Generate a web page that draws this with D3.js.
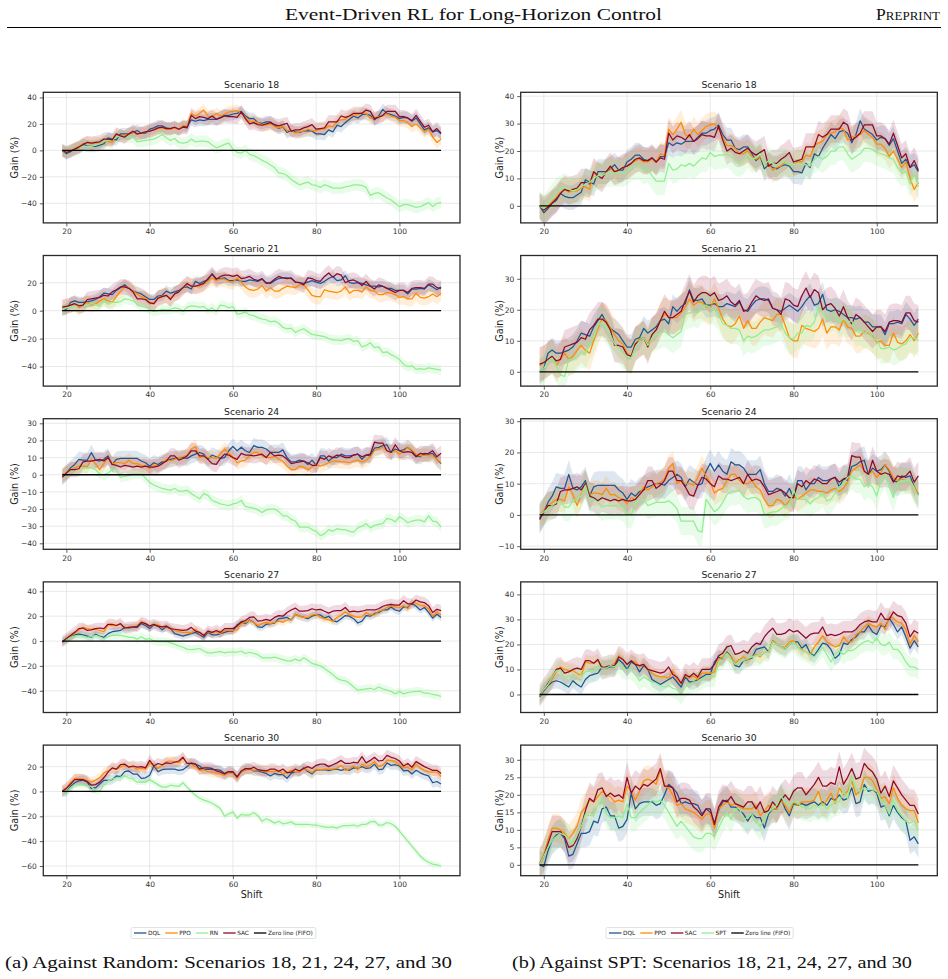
<!DOCTYPE html>
<html><head><meta charset="utf-8">
<script src="https://cdn.jsdelivr.net/npm/d3@7"></script>
<style>
html,body{margin:0;padding:0;background:#fff;}
svg{display:block;}
</style></head>
<body>
<svg id="fig" width="948" height="979"></svg>
<script>
// ---------------- DATA ----------------
const shifts = d3.range(19, 111);           // x categories 19..110
const scenarios = [18, 21, 24, 27, 30];
const xTicks = [20, 40, 60, 80, 100];

const dql18 = [0,-2.5,-1,1,2,4.5,3.5,3,3,4,
  5,9.5,8.5,8,12.5,12.5,12.5,13.5,15,13,
  13,16,17,18.5,18.5,17,16.5,17.5,16,18,
  18,23,22,23,22.5,23.5,23.5,23.5,25,26.5,
  26.5,27.5,28,29.5,26,24,24,21,20.5,21.5,
  21.5,19,16.5,18,13.5,15,14,13.5,14.5,15,
  14.5,12.5,12.5,12,15.5,14,19,18,21,23.5,
  26,24.5,27,27.5,26.5,23,26,31,28,27,
  26,24,25,24.5,22,24.5,20,15.5,17,14,
  15,12.5];
const ppo18 = [0,-1.5,0,1.5,3,5,6,5,5.5,5.5,
  6.5,7,6,12,11,11,12.5,14,12,13,
  14,14.5,15.5,16.5,17,16,16,17,16,19,
  18.5,28,26,28,30.5,26,25,28,26,27.5,
  29,29.5,30,28,25,22,22,21,19,19,
  20,18,17,18,15,15.5,13,14,14.5,16,
  15,15,16,16,18.5,18,22,23,23.5,26,
  26.5,27,28.5,28,24,25,25.5,26,27.5,26,
  25,22.5,22.5,21,18,20,17,14,16,10,
  6,8.5];
const sac18 = [0,-1.5,-0.5,1,2.5,4.5,6,5.5,6,6.5,
  8.5,8.5,8,12.5,11,10,12.5,14.5,12.5,13,
  14,14.5,15.5,17,17.5,16.5,16.5,17.5,16,17.5,
  17,26.5,24,25.5,25,24,26,23.5,24.5,26,
  25.5,25.5,25,29,24,20,21,19.5,19,20,
  21,19.5,18.5,19.5,20.5,14.5,15.5,15.5,17,18,
  19.5,16,16.5,17,21.5,21.5,21.5,26,25,26,
  28,28,28,30.5,29.5,24,25,26.5,29.5,29.5,
  29.5,25.5,25.5,24.5,22.5,26.5,22,17.5,19,14,
  16.5,13];
const spt18 = [0,-1,1,3,5,6,7,6,5.5,6,
  7,8,8.5,10,11,11,12,12,12,12,
  12,12.5,14,14.5,14.5,13,13.5,11,9,9,
  9,15.5,13,13.5,15,14.5,15.5,14.5,16,17.5,
  17,19.5,18,18.5,18.5,19,18,16,15.5,16.5,
  19,17,17.5,19,15,16.5,15.5,15,16,16,
  15,15,15.5,15,15,14.5,17,18,17,18,
  20,20,21.5,21.5,19,17,18,19,21,21,
  20.5,19.5,19,18.5,17.5,17,14,12,12.5,8,
  11.5,7];
const rn18 = [0,-1.5,0,1,2,3,3,3,4,5,
  7,7.5,8,10,11,10,10,10,6.5,7,
  7.5,8,8.5,10,12,9.5,7.5,9,6,5.5,
  6,8.5,6.5,7,7,6.5,4,2,3,4.5,
  5.5,1,-1.5,-2,0,-3,-4,-5.5,-7.5,-9,
  -11,-13,-17,-17.5,-19,-22,-24,-26,-25,-24,
  -26,-26.5,-28,-26,-27,-28.5,-28.5,-28.5,-27.5,-27,
  -26,-26,-26.5,-28,-34,-32.5,-32,-34,-36,-37.5,
  -40,-42.5,-41,-41,-42,-43,-42.5,-41,-39.5,-42.5,
  -40,-39.5];

const dql21 = [0,1,6,7,6,6,6.5,7,8,10,
  12.5,12,11.5,14.5,16.5,18.5,16,14,13,12,
  10,8,8,10.5,11,14,12.5,13.5,14.5,16.5,
  17,15.5,21,19.5,21,22,26.5,23,23,23.5,
  21.5,21.5,22,21,21,22,21.5,21,22.5,20,
  19.5,21.5,23,23.5,23.5,23,20.5,20,19.5,20.5,
  21.5,20.5,19.5,21,23,24.5,21.5,22,25,20,
  19.5,20,19.5,18.5,17.5,17.5,17,17.5,16,16,
  14.5,14.5,14.5,12,15.5,15.5,16,15.5,18.5,17,
  15,17];
const ppo21 = [2,3,4,5,2,4,6,4,5,7,
  8.5,7,6,10,14,17,16.5,14,12,10,
  9,6,5,9,10.5,11,9,12,13.5,16.5,
  18.5,18,17.5,17.5,19,21,23.5,21.5,22.5,22.5,
  21,20.5,23.5,20.5,17,15,14.5,15.5,18,14,
  16.5,14,14,16,17.5,17,16.5,18.5,18.5,15,
  11,10,10,15,14,13.5,13,14,17,12.5,
  14.5,14.5,13.5,17,14.5,14,11.5,11.5,13,12.5,
  11.5,9.5,10,8.5,8.5,12.5,9.5,9,10,12,
  10,12.5];
const sac21 = [2.5,3,4,5,3.5,4,8,8.5,9,9.5,
  11,10.5,13.5,15,17,17,16,13.5,8.5,8.5,
  8,5.5,5,9,10,11,8,12,13.5,16.5,
  19.5,17.5,17.5,18.5,19.5,23,26,22.5,24.5,25.5,
  25.5,24.5,25.5,23,23.5,24.5,22.5,21.5,23,19.5,
  20,22.5,24.5,23.5,23,23.5,20.5,20,18.5,23.5,
  23,21.5,21,24.5,27,24,26.5,25.5,20,21.5,
  22,20.5,18,21,17.5,15.5,18.5,17.5,16,14.5,
  13,14.5,14.5,13,16,16.5,16.5,16,19,19,
  16.5,16];
const spt21 = [0,1,3.5,4.5,2,-1,-1.5,4,4,5,
  6.5,6,9,11,15,16,14,12,9,7.5,
  6,5,4.5,8,10,11,8.5,11,12,12.5,
  13,12,11,12,13,18.5,19,19.5,19,21,
  21.5,20.5,20,18.5,15.5,15,14,14,13.5,10,
  11.5,11,11.5,12.5,13.5,13.5,14,14.5,15.5,12.5,
  11,10.5,12.5,12.5,15,14.5,16,21,19,17,
  18,18.5,16,17,16,16.5,13,13.5,12.5,13,
  11,10,7.5,7.5,8,7,7.5,8.5,9,11,
  11,10];
const rn21 = [0.5,2,2.5,3,3.5,4,4,5,4.5,3,
  7.5,4.5,6,6,6.5,8.5,8,7,5,3,
  2.5,1,-0.5,0,1,0.5,1,2,1.5,-0.5,
  2.5,3.5,3,2.5,3,0.5,2,-0.5,4,3.5,
  2,3,-2.5,-2,-1,-3,-3.5,-5,-6,-6.5,
  -8,-7.5,-9,-12,-13,-12.5,-15.5,-14,-13,-15,
  -17,-17.5,-18,-18.5,-20,-21,-21,-21.5,-20.5,-20,
  -22,-21.5,-26,-25,-23,-26.5,-26,-30,-29.5,-31.5,
  -33,-35,-38.5,-40,-39.5,-42,-41.5,-42,-41,-41.5,
  -42,-42.5];

const dql24 = [-1,1,4,6,9,8.5,8.5,13,8.5,8,
  9,11,6,9,9.5,9.5,9.5,9.5,9.5,8,
  7,5,7,6,7.5,8,9,9.5,10,10,
  9.5,11,12,13,12,9,11.5,10.5,9.5,10,
  14,16.5,14,16,14,13,17,16,16,15,
  13,13,13,14.5,10,7.5,7.5,8.5,8,6,
  8.5,5.5,11,11,8,10,10,12,11,11,
  11.5,12,9,11.5,11,15.5,16,17,17.5,13,
  15,14,14.5,16,14,11,10.5,12.5,12,12.5,
  9,6.5];
const ppo24 = [0,1.5,3,4,5,5,4.5,9,6.5,3,
  6.5,10,6.5,7,7,6.5,8.5,6.5,6.5,5.5,
  5,3.5,5.5,5,6.5,9,8,9,10,10.5,
  11.5,15,16.5,10,11,10,10,9.5,12,15,
  12.5,10.5,7,8,8.5,11,13,13,11,10,
  10,11,9,8,5,3,3,5,4.5,3,
  4.5,6,5,6,7,8,8,7.5,7.5,7,
  8,8.5,7.5,8.5,10.5,14,15,16,14,13,
  14,12,13.5,16,14.5,12,11,11.5,11,11,
  9,7];
const sac24 = [-1.5,1,3,3,3.5,7.5,8,8,8.5,9,
  8,10,6,5.5,4.5,5.5,5,4.5,5,4.5,
  5,4.5,4.5,5,6.5,8,11,11,8.5,9.5,
  11,14,14,11,11,9,6.5,6,9.5,12,
  11.5,10,9,12.5,11.5,11.5,11,11.5,12,10,
  13,11,11.5,11,9,6.5,7,7.5,8,7,
  5.5,5.5,10,9,11,10,11.5,11,10,10,
  11.5,12,10.5,11.5,12,19,18.5,18.5,14,13,
  17.5,14,13,13.5,13,10.5,12.5,12,12.5,14,
  10.5,12.5];
const spt24 = [0,1,2,3,4,4.5,2.5,2.5,4.5,5,
  6,9.5,5,5,4,2.5,3,3,3,3,
  2.5,0.5,0,4,4.5,5,3,3.5,4,4,
  4,4.5,3.5,2,-2,-2,-2,-2,-5,-5.5,
  5,3,1,2,4,6.5,7.5,7.5,8,6,
  5,5.5,5.5,4.5,0,0.5,1,1,2,3,
  3,8,5,5,5,3.5,5,5.5,7,4.5,
  5,7,9,10,12,12.5,11.5,11.5,9,10,
  9,6,11,13,9,5.5,10.5,11,11,11,
  8.5,6];
const rn24 = [-1,1,2.5,3,3.5,4,4,4,3,0.5,
  0,1,3,3,-1.5,-1,-0.5,0.5,0.5,0.5,
  -2,-4.5,-6,-7,-8,-8.5,-9,-8,-9.5,-9.5,
  -9,-11,-12.5,-14,-11,-12,-15,-16,-17,-17.5,
  -18,-17,-16.5,-15,-18.5,-19,-19.5,-20.5,-22,-20.5,
  -20,-20,-21.5,-24,-24,-26,-27,-30.5,-30.5,-30.5,
  -32,-33,-35.5,-34.5,-32,-33,-31.5,-32,-32,-33,
  -33.5,-31,-30,-28.5,-31,-29.5,-29,-28.5,-25.5,-26,
  -27.5,-24.5,-26,-28,-27,-26.5,-26.5,-27.5,-24,-27,
  -27.5,-30.5];

const dql27 = [-1,1.5,3.5,5,5.5,5,4,3,5.5,4,
  3,6,7.5,8,8.5,11,10.5,11,11,14,
  12.5,10,13,12,9,11.5,10,6,5,4,
  5,6,7,5,3,7,5,5,6,7,
  8,8,13,15,14,17,15,11.5,11,13.5,
  14,14.5,18,18.5,19,17,21.5,20,19,18,
  20,21,21,18.5,20,16.5,15.5,18,20.5,20,
  18,14.5,16,20.5,20,22,23,25,25,27.5,
  25,24,27.5,27,30.5,28,25,27,23,18.5,
  21.5,19];
const ppo27 = [-0.5,2,4,6,9,11,10,9.5,9.5,8.5,
  7.5,13,12.5,12.5,13.5,10.5,11,11.5,12.5,15.5,
  14,12,13.5,13,11,12,10,8.5,7.5,7,
  7,6.5,9.5,6,4.5,7.5,6.5,7.5,6,8.5,
  8.5,8.5,9,14,15,16.5,15,12.5,14,15,
  14,15,16,15,17,17,21.5,20,19,19,
  21,21.5,19,18,17,16,19,21,23.5,21,
  20,19,19.5,23,21,21,24,25,27,28.5,
  27.5,27,28.5,26,31,30.5,29,28.5,26,20,
  23.5,21];
const sac27 = [-0.5,2,4.5,7,10,10.5,8.5,9,10,10.5,
  10,13.5,13.5,12.5,14,10.5,11,11.5,11.5,15,
  14,12,13.5,12,11.5,12,10,9.5,9,8.5,
  9,11,8,7,4.5,8,7,8.5,7,10,
  10,10,12,15.5,16.5,19,19.5,16,16.5,17.5,
  16.5,19,20.5,20,23,25,26.5,24,24,24.5,
  26,25,25.5,24,22.5,24,24.5,24.5,27,23.5,
  24,23.5,24,25,25,25,26,28,29,29.5,
  29,29,32.5,30,30,33,31.5,31,28.5,23,
  25.5,24.5];
const spt27 = [-0.5,2,4,7,9.5,9.5,6.5,7.5,6.5,7.5,
  7.5,9,9.5,9.5,11,10.5,10.5,11.5,11,12.5,
  10,10,10,8,5.5,7,6,5,4.5,3.5,
  3,3.5,2.5,2,0,3,4,5,5,6,
  7,7,7,13,14,16.5,14,12,13,13.5,
  14.5,15,15.5,15.5,17,17,21,20,19,18,
  20,21,19,17.5,17,16,15,17,19,16,
  13,16,17.5,16,17.5,17.5,18.5,20,21,21.5,
  20.5,22.5,20,19.5,21,18,18,16,13,11,
  11,10];
const rn27 = [-0.5,1.5,3,4,4.5,4,3,3.5,4.5,3.5,
  2,3.5,4.5,4.5,4.5,4,3,3,1.5,3.5,
  1.5,2,0,-0.5,-0.5,-0.5,-1.5,-2.5,-4,-5,
  -6.5,-7,-6.5,-6,-8,-9.5,-9.5,-9,-8.5,-9.5,
  -9,-9,-9,-8,-10,-9,-10,-11,-13.5,-13.5,
  -13.5,-13,-14,-15,-16,-16,-14.5,-16,-13.5,-15.5,
  -18,-19,-20,-22,-24.5,-27,-30,-31.5,-32,-34,
  -37,-39.5,-39,-38.5,-38,-39,-37,-38.5,-39.5,-40.5,
  -42.5,-40.5,-42.5,-41.5,-41,-40.5,-40.5,-42,-42,-43,
  -43.5,-44.5];

const dql30 = [0,-0.5,4,7,8.5,9,7.5,2.5,3,6,
  9,9,9.5,12.5,12,16,16.5,14,14,10.5,
  11,13,20.5,16,17.5,18,18,18,17,17.5,
  20,23,22,20.5,17.5,18,17.5,17.5,17,14.5,
  16,15,12,15.5,18,18.5,16.5,16.5,15.5,14.5,
  12.5,14.5,13.5,13.5,10.5,14.5,16,16,19,16,
  14,17.5,17,17.5,17,17.5,18,17,18,17,
  19,18.5,20,18.5,19,22,17.5,18,23,21,
  21.5,20.5,16.5,17,14,17,15,13.5,12.5,7,
  8,6];
const ppo30 = [0.5,3,7,10.5,10.5,10,9,7.5,9,11,
  15,16.5,18.5,18,19.5,21,20,19.5,18,18.5,
  18,22.5,21,18.5,21,24,24.5,24,23,27,
  22.5,22,20,17,17.5,16,15.5,15,14,13,
  14.5,14.5,10.5,16,17,18,17,17.5,16.5,16,
  16,16,17,14,15.5,17,16,16,18.5,17,
  15,18,17,18,18,18,18.5,21,17,18.5,
  20.5,17.5,22,20,21,24,20,21,25,25,
  24,21.5,19,19.5,17.5,22,19,17,16,15.5,
  15.5,12];
const sac30 = [0,2.5,6,9.5,9.5,9.5,8,5,5.5,7.5,
  11,15.5,19,18,21.5,22,19.5,20.5,19.5,20,
  19,25,20.5,22.5,21.5,23,22.5,23.5,24.5,27.5,
  22.5,22.5,22,18,19,19,18.5,16.5,15.5,14,
  16,16,11.5,16.5,18.5,18,19.5,17.5,17,16.5,
  18,18,16,18,15,15.5,18,16.5,18.5,20,
  18.5,21,22,22,20,21.5,23,25,22.5,22.5,
  23.5,23,28,23,25,27.5,24.5,25,29,27.5,
  26.5,24.5,20.5,22.5,19.5,24,22,20,18.5,17,
  17,14.5];
const spt30 = [0,2.5,5,7,8,9,8.5,7.5,6,8.5,
  11,14.5,14,14.5,17,19,14.5,13.5,13.5,14,
  13.5,17.5,13.5,13.5,15,16,17,18.5,18,18.5,
  17,15,13,11,12.5,11,9.5,8,7.5,7.5,
  9,9,8,10.5,13,15,13,16,16,13,
  13.5,14.5,12.5,11,13,15,16,17,19.5,18,
  17,18,18,16.5,16.5,16,17,16.5,17.5,16,
  17,18,18,21,19,25,22,21,22,21.5,
  21.5,21,18.5,17,14.5,18.5,15.5,14,12.5,12,
  12.5,10];
const rn30 = [-0.5,-0.5,3,5.5,5.5,5,4.5,4,0,0.5,
  5,8.5,10,11,11.5,12.5,11,10,7.5,7.5,
  7.5,9.5,7.5,5.5,3.5,3.5,5,4.5,4,7,
  3.5,0,-3,-5.5,-7,-8,-9.5,-11.5,-14,-20,
  -18,-16.5,-21.5,-18.5,-19,-19,-17,-19.5,-24,-22,
  -23.5,-25.5,-24,-26,-25.5,-24.5,-26.5,-26.5,-26.5,-26.5,
  -27,-27,-28,-28.5,-29,-28.5,-29.5,-28,-27.5,-27.5,
  -27,-28,-26.5,-26.5,-24.5,-24,-27,-27,-25,-26,
  -28,-32,-36,-40,-44,-48,-52,-55,-57,-58.5,
  -59,-60];

// band half-widths (std estimates) per scenario 18,21,24,27,30
const dqlSpread = [4.5, 4, 4.5, 3, 4];
const ppoSpread = [4.5, 5.5, 4, 3, 4];
const sacSpread = [5, 5.5, 4.5, 4.5, 4.5];
const sptSpread = [5, 5, 4.5, 4, 4];
const rnSpread  = [4.5, 3.5, 3, 3.5, 2.5];

// axis ranges and tick steps per scenario (left: vs Random, right: vs SPT)
const leftYDomain  = [[-54.8, 43.9], [-54, 39.5], [-43.5, 32.7], [-57.5, 47.6], [-67.8, 37.3]];
const rightYDomain = [[-6.2, 41.4], [-4.6, 37.5], [-11, 30.8], [-7.2, 45], [-3.1, 34.2]];
const leftYStep  = [20, 20, 10, 20, 20];
const rightYStep = [10, 10, 10, 10, 5];

const dqlData = [dql18, dql21, dql24, dql27, dql30];
const ppoData = [ppo18, ppo21, ppo24, ppo27, ppo30];
const sacData = [sac18, sac21, sac24, sac27, sac30];
const sptData = [spt18, spt21, spt24, spt27, spt30];
const rnData  = [rn18, rn21, rn24, rn27, rn30];

[dqlData, ppoData, sacData, sptData, rnData].forEach((set, k) => set.forEach((a, i) => {
  if (a.length !== shifts.length) throw new Error('series ' + k + ' scen ' + scenarios[i] + ' has ' + a.length);
}));

// ---------------- STYLE ----------------
const COLORS = { DQL: '#1f5591', PPO: '#ff8c00', SAC: '#8b0a2c', RN: '#90ee90', SPT: '#90ee90', ZERO: '#000000' };
const SANS = 'DejaVu Sans, sans-serif';
const SERIF = 'Liberation Serif, Times New Roman, serif';

const svg = d3.select('#fig');
svg.append('rect').attr('width', 948).attr('height', 979).attr('fill', '#fff');

// header
svg.append('text').attr('x', 473.5).attr('y', 20).attr('text-anchor', 'middle')
  .attr('font-family', SERIF).attr('font-size', 17.5).attr('fill', '#111')
  .attr('textLength', 377).attr('lengthAdjust', 'spacingAndGlyphs')
  .text('Event-Driven RL for Long-Horizon Control');
const pp = svg.append('text').attr('x', 940).attr('y', 20).attr('text-anchor', 'end')
  .attr('font-family', SERIF).attr('fill', '#111');
pp.append('tspan').attr('font-size', 17.5).text('P');
pp.append('tspan').attr('font-size', 13).text('REPRINT');
svg.append('line').attr('x1', 7).attr('x2', 941).attr('y1', 27.5).attr('y2', 27.5)
  .attr('stroke', '#000').attr('stroke-width', 1);

// layout
const cols = [{ x0: 43.3, x1: 460 }, { x0: 520.7, x1: 937.3 }];
const panelTop0 = 92.3, panelStep = 163.2, panelH = 130.6;

let clipId = 0;
function drawPanel(colIdx, i) {
  const col = cols[colIdx];
  const top = panelTop0 + i * panelStep, bottom = top + panelH;
  const x = d3.scaleLinear().domain([14.45, 114.55]).range([col.x0, col.x1]);
  const dom = colIdx === 0 ? leftYDomain[i] : rightYDomain[i];
  const step = colIdx === 0 ? leftYStep[i] : rightYStep[i];
  const y = d3.scaleLinear().domain(dom).range([bottom, top]);
  const yTicks = d3.range(Math.ceil(dom[0] / step) * step, dom[1] + 1e-9, step);

  const g = svg.append('g');
  const cid = 'clip' + (clipId++);
  g.append('clipPath').attr('id', cid).append('rect')
    .attr('x', col.x0).attr('y', top).attr('width', col.x1 - col.x0).attr('height', panelH);

  // grid
  const grid = g.append('g');
  grid.selectAll('.gx').data(xTicks).join('line')
    .attr('x1', d => x(d)).attr('x2', d => x(d)).attr('y1', top).attr('y2', bottom)
    .attr('stroke', '#e3e3e3').attr('stroke-width', 0.8);
  grid.selectAll('.gy').data(yTicks).join('line')
    .attr('x1', col.x0).attr('x2', col.x1).attr('y1', d => y(d)).attr('y2', d => y(d))
    .attr('stroke', '#e3e3e3').attr('stroke-width', 0.8);

  const series = colIdx === 0
    ? [['DQL', dqlData[i], dqlSpread[i]], ['PPO', ppoData[i], ppoSpread[i]], ['RN', rnData[i], rnSpread[i]], ['SAC', sacData[i], sacSpread[i]]]
    : [['DQL', dqlData[i], dqlSpread[i]], ['PPO', ppoData[i], ppoSpread[i]], ['SAC', sacData[i], sacSpread[i]], ['SPT', sptData[i], sptSpread[i]]];

  const plot = g.append('g').attr('clip-path', `url(#${cid})`);
  const area = (vals, s) => d3.area().x((d, k) => x(shifts[k])).y0(d => y(d - s)).y1(d => y(d + s))(vals);
  const line = vals => d3.line().x((d, k) => x(shifts[k])).y(d => y(d))(vals);

  series.forEach(([name, vals, s]) => {
    plot.append('path').attr('d', area(vals, s)).attr('fill', COLORS[name])
      .attr('fill-opacity', name === 'RN' || name === 'SPT' ? 0.2 : 0.15).attr('stroke', 'none');
  });
  series.forEach(([name, vals]) => {
    plot.append('path').attr('d', line(vals)).attr('fill', 'none')
      .attr('stroke', COLORS[name]).attr('stroke-width', 1.25).attr('stroke-linejoin', 'round');
  });
  plot.append('line').attr('x1', x(19)).attr('x2', x(110)).attr('y1', y(0)).attr('y2', y(0))
    .attr('stroke', COLORS.ZERO).attr('stroke-width', 1.3);

  // axes
  const xa = g.append('g').attr('transform', `translate(0,${bottom})`)
    .call(d3.axisBottom(x).tickValues(xTicks).tickSize(3.5).tickPadding(2.5).tickFormat(d3.format('d')));
  const ya = g.append('g').attr('transform', `translate(${col.x0},0)`)
    .call(d3.axisLeft(y).tickValues(yTicks).tickSize(3.5).tickPadding(3).tickFormat(d => d < 0 ? '\u2212' + Math.abs(d) : d));
  [xa, ya].forEach(a => {
    a.select('.domain').remove();
    a.selectAll('line').attr('stroke', '#333').attr('stroke-width', 0.8);
    a.selectAll('text').attr('font-family', SANS).attr('font-size', 7.5).attr('fill', '#333');
  });

  // frame
  g.append('rect').attr('x', col.x0).attr('y', top).attr('width', col.x1 - col.x0).attr('height', panelH)
    .attr('fill', 'none').attr('stroke', '#2a2a2a').attr('stroke-width', 1.3);

  // title and labels
  g.append('text').attr('x', (col.x0 + col.x1) / 2).attr('y', top - 4).attr('text-anchor', 'middle')
    .attr('font-family', SANS).attr('font-size', 9.3).attr('fill', '#222').text('Scenario ' + scenarios[i]);
  const ylx = colIdx === 0 ? 14.3 : 500;
  g.append('text').attr('transform', `translate(${ylx + 3.4},${(top + bottom) / 2}) rotate(-90)`)
    .attr('text-anchor', 'middle').attr('font-family', SANS).attr('font-size', 9.6).attr('fill', '#222').text('Gain (%)');
  if (i === scenarios.length - 1) {
    g.append('text').attr('x', (col.x0 + col.x1) / 2).attr('y', bottom + 22).attr('text-anchor', 'middle')
      .attr('font-family', SANS).attr('font-size', 9.6).attr('fill', '#222').text('Shift');
  }
}

for (let c = 0; c < 2; c++) for (let i = 0; i < scenarios.length; i++) drawPanel(c, i);

// legends
function legend(x0, yc, entries) {
  const g = svg.append('g');
  const box = g.append('rect');
  let cx = x0 + 3;
  entries.forEach(([name, colKey]) => {
    g.append('line').attr('x1', cx).attr('x2', cx + 12.5).attr('y1', yc).attr('y2', yc)
      .attr('stroke', COLORS[colKey]).attr('stroke-width', 1.3);
    const t = g.append('text').attr('x', cx + 14).attr('y', yc + 2.1)
      .attr('font-family', SANS).attr('font-size', 5.8).attr('fill', '#222').text(name);
    cx += 14 + t.node().getComputedTextLength() + 5;
  });
  box.attr('x', x0).attr('y', yc - 5.5).attr('width', cx - x0 - 2).attr('height', 11).attr('rx', 1.5)
    .attr('fill', '#fff').attr('stroke', '#cfcfcf').attr('stroke-width', 0.6);
}
legend(131, 933, [['DQL', 'DQL'], ['PPO', 'PPO'], ['RN', 'RN'], ['SAC', 'SAC'], ['Zero line (FIFO)', 'ZERO']]);
legend(606, 933, [['DQL', 'DQL'], ['PPO', 'PPO'], ['SAC', 'SAC'], ['SPT', 'SPT'], ['Zero line (FIFO)', 'ZERO']]);

// captions
svg.append('text').attr('x', 5).attr('y', 968).attr('font-family', SERIF).attr('font-size', 17.5).attr('fill', '#111')
  .attr('textLength', 447).attr('lengthAdjust', 'spacingAndGlyphs')
  .text('(a) Against Random: Scenarios 18, 21, 24, 27, and 30');
svg.append('text').attr('x', 512).attr('y', 968).attr('font-family', SERIF).attr('font-size', 17.5).attr('fill', '#111')
  .attr('textLength', 400).attr('lengthAdjust', 'spacingAndGlyphs')
  .text('(b) Against SPT: Scenarios 18, 21, 24, 27, and 30');
</script>
</body></html>
